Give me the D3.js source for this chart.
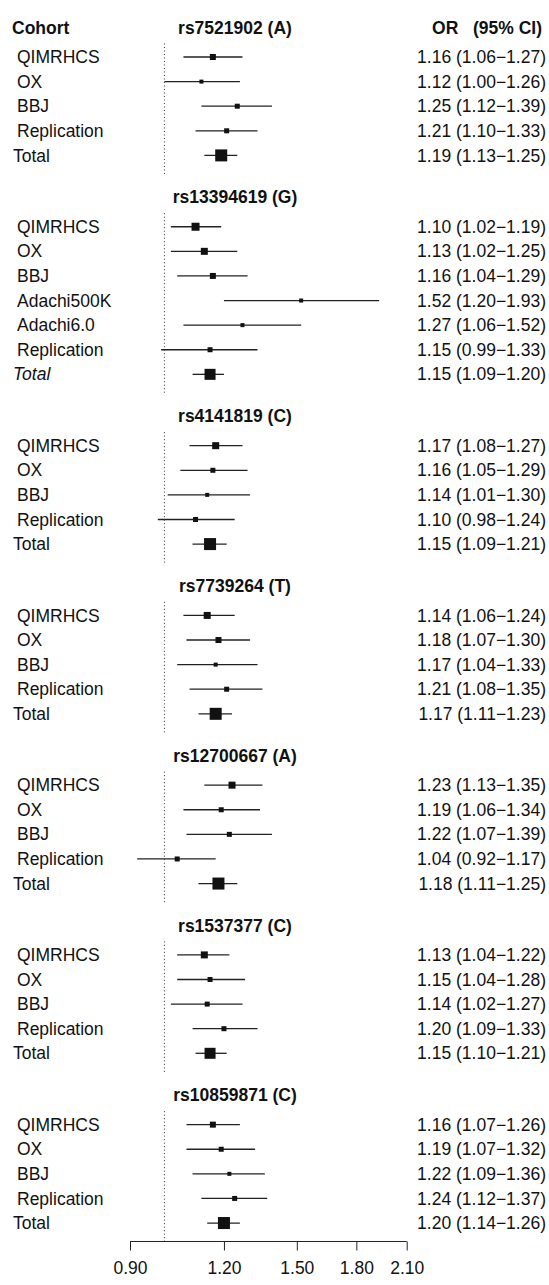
<!DOCTYPE html>
<html>
<head>
<meta charset="utf-8">
<script src="https://cdn.jsdelivr.net/npm/d3@7"></script>
<style>
  body { margin: 0; background: #fff; }
  text { font-family: "Liberation Sans", Arial, Helvetica, sans-serif; fill: #111; }
</style>
</head>
<body>
<div id="chart"></div>
<script>
// one entry per SNP panel
var snps = ["rs7521902 (A)", "rs13394619 (G)", "rs4141819 (C)", "rs7739264 (T)",
            "rs12700667 (A)", "rs1537377 (C)", "rs10859871 (C)"];

var cohorts = [
  ["QIMRHCS", "OX", "BBJ", "Replication", "Total"],
  ["QIMRHCS", "OX", "BBJ", "Adachi500K", "Adachi6.0", "Replication", "Total"],
  ["QIMRHCS", "OX", "BBJ", "Replication", "Total"],
  ["QIMRHCS", "OX", "BBJ", "Replication", "Total"],
  ["QIMRHCS", "OX", "BBJ", "Replication", "Total"],
  ["QIMRHCS", "OX", "BBJ", "Replication", "Total"],
  ["QIMRHCS", "OX", "BBJ", "Replication", "Total"]
];

var oddsRatio = [
  [1.16, 1.12, 1.25, 1.21, 1.19],
  [1.10, 1.13, 1.16, 1.52, 1.27, 1.15, 1.15],
  [1.17, 1.16, 1.14, 1.10, 1.15],
  [1.14, 1.18, 1.17, 1.21, 1.17],
  [1.23, 1.19, 1.22, 1.04, 1.18],
  [1.13, 1.15, 1.14, 1.20, 1.15],
  [1.16, 1.19, 1.22, 1.24, 1.20]
];
var ciLow = [
  [1.06, 1.00, 1.12, 1.10, 1.13],
  [1.02, 1.02, 1.04, 1.20, 1.06, 0.99, 1.09],
  [1.08, 1.05, 1.01, 0.98, 1.09],
  [1.06, 1.07, 1.04, 1.08, 1.11],
  [1.13, 1.06, 1.07, 0.92, 1.11],
  [1.04, 1.04, 1.02, 1.09, 1.10],
  [1.07, 1.07, 1.09, 1.12, 1.14]
];
var ciHigh = [
  [1.27, 1.26, 1.39, 1.33, 1.25],
  [1.19, 1.25, 1.29, 1.93, 1.52, 1.33, 1.20],
  [1.27, 1.29, 1.30, 1.24, 1.21],
  [1.24, 1.30, 1.33, 1.35, 1.23],
  [1.35, 1.34, 1.39, 1.17, 1.25],
  [1.22, 1.28, 1.27, 1.33, 1.21],
  [1.26, 1.32, 1.36, 1.37, 1.26]
];
// relative box size (study weight)
var boxSize = [
  [6, 4, 5, 5, 12],
  [8, 7, 6, 4, 4, 5, 11],
  [7, 5, 4, 5, 12],
  [7, 6, 4, 5, 12],
  [7, 5, 5, 5, 12],
  [7, 5, 5, 5, 11],
  [6, 5, 4, 5, 12]
];
var italicTotal = [1];   // panels where "Total" is set in italics
var tickValues = [0.90, 1.20, 1.50, 1.80, 2.10];

var width = 549, height = 1285;
var rowStep = 24.6, panelGap = 1.9, fs = 17.5;

var svg = d3.select("#chart").append("svg")
  .attr("width", width)
  .attr("height", height);

var x = d3.scaleLog().domain([0.9, 2.1]).range([130, 406.7]);

// build flat rows with a running row index
var rows = [], panels = [], idx = 0;
snps.forEach(function(s, g) {
  var first = idx;
  cohorts[g].forEach(function(c, i) {
    rows.push({ g: g, i: i, cohort: c, or: oddsRatio[g][i], lo: ciLow[g][i], hi: ciHigh[g][i],
                size: boxSize[g][i], total: c === "Total", r: idx });
    idx++;
  });
  panels.push({ name: s, first: first, last: idx - 1 });
  idx += panelGap;
});

var y = d3.scaleLinear().domain([0, 1]).range([57, 57 + rowStep]);

var fmt = d3.format(".2f");

// headers
svg.append("text").attr("x", 12).attr("y", y(-1.2)).attr("dy", "0.35em")
  .attr("font-size", fs).attr("font-weight", "bold").text("Cohort");
svg.append("text").attr("x", 542).attr("y", y(-1.2)).attr("dy", "0.35em")
  .attr("text-anchor", "end").attr("font-size", fs).attr("font-weight", "bold")
  .attr("xml:space", "preserve").style("white-space", "pre").text("OR   (95% CI)");

// panel titles + reference line at OR = 1
var pg = svg.selectAll(".panel").data(panels).enter().append("g").attr("class", "panel");
pg.append("text")
  .attr("x", 235).attr("y", function(d) { return y(d.first - 1.2); }).attr("dy", "0.35em")
  .attr("text-anchor", "middle").attr("font-size", fs).attr("font-weight", "bold")
  .text(function(d) { return d.name; });
pg.append("line")
  .attr("x1", x(1)).attr("x2", x(1))
  .attr("y1", function(d) { return y(d.first - 0.55); })
  .attr("y2", function(d) { return y(d.last + 0.85); })
  .attr("stroke", "#333").attr("stroke-width", 1)
  .attr("stroke-dasharray", "1,2.5");

// rows
var rg = svg.selectAll(".row").data(rows).enter().append("g").attr("class", "row");

rg.append("text")
  .attr("x", function(d) { return d.total ? 13 : 17; })
  .attr("y", function(d) { return y(d.r); }).attr("dy", "0.35em")
  .attr("font-size", fs)
  .attr("font-style", function(d) { return d.total && italicTotal.indexOf(d.g) >= 0 ? "italic" : null; })
  .text(function(d) { return d.cohort; });

rg.append("text")
  .attr("x", 546).attr("text-anchor", "end")
  .attr("y", function(d) { return y(d.r); }).attr("dy", "0.35em")
  .attr("font-size", fs)
  .text(function(d) { return fmt(d.or) + " (" + fmt(d.lo) + "\u2212" + fmt(d.hi) + ")"; });

rg.append("line")
  .attr("x1", function(d) { return x(d.lo); })
  .attr("x2", function(d) { return x(d.hi); })
  .attr("y1", function(d) { return y(d.r); })
  .attr("y2", function(d) { return y(d.r); })
  .attr("stroke", "#222").attr("stroke-width", 1.3);

rg.append("rect")
  .attr("x", function(d) { return x(d.or) - d.size / 2; })
  .attr("y", function(d) { return y(d.r) - d.size / 2; })
  .attr("width", function(d) { return d.size; })
  .attr("height", function(d) { return d.size; })
  .attr("fill", "#111");

// axis
var axisY = y(panels[panels.length - 1].last + 0.75);
var axis = d3.axisBottom(x).tickValues(tickValues).tickFormat(fmt).tickSize(9).tickPadding(11);
var ax = svg.append("g").attr("transform", "translate(0," + axisY + ")").call(axis);
ax.select(".domain").attr("d", "M" + x(0.9) + ",0H" + x(2.1)).attr("stroke", "#222");
ax.selectAll(".tick line").attr("stroke", "#222");
ax.selectAll(".tick text").attr("font-size", fs)
  .attr("font-family", "'Liberation Sans', Arial, sans-serif").attr("fill", "#111");
</script>
</body>
</html>
